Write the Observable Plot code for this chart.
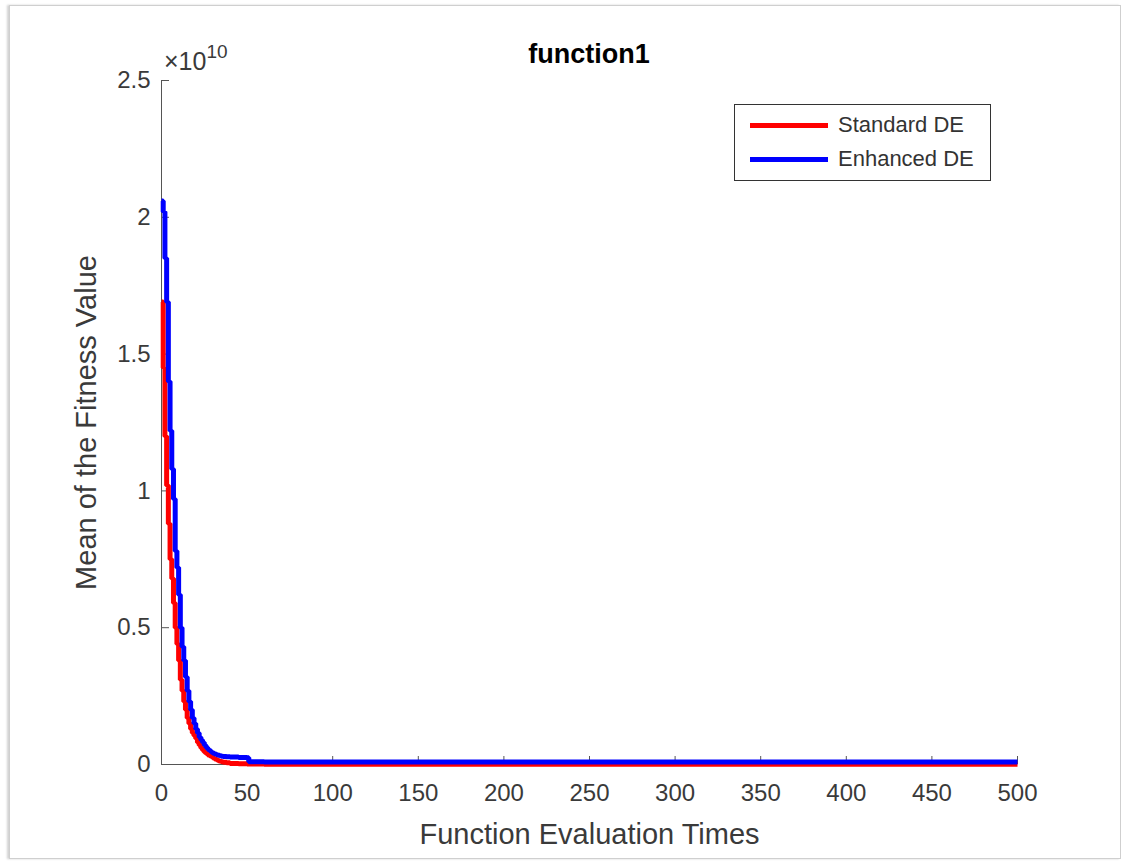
<!DOCTYPE html>
<html>
<head>
<meta charset="utf-8">
<script src="https://cdn.jsdelivr.net/npm/d3@7"></script>
<script src="https://cdn.jsdelivr.net/npm/@observablehq/plot@0.6"></script>
<style>
  html, body { margin: 0; padding: 0; background: #fff; }
  body { width: 1126px; height: 863px; overflow: hidden; font-family: "Liberation Sans", Arial, Helvetica, sans-serif; }
  #wrap { position: relative; width: 1126px; height: 863px; }
  #frame { position: absolute; left: 9px; top: 5px; width: 1110px; height: 852px; border: 1px solid #cfcfcf; box-shadow: -2px 0 2px rgba(0,0,0,0.18); pointer-events: none; }
  #chart { position: absolute; left: 0; top: 0; }
  .title { position: absolute; left: 389px; width: 400px; top: 39px; text-align: center; font-weight: bold; font-size: 27px; color: #000; }
  .expo { position: absolute; left: 164px; top: 47px; font-size: 25px; color: #3a3a3a; white-space: nowrap; }
  .expo sup { font-size: 19px; position: relative; top: -6px; vertical-align: top; }
  .legend { position: absolute; left: 734px; top: 104px; width: 257px; height: 77px; border: 1.5px solid #333; background: #fff; box-sizing: border-box; }
  .legend .item { position: absolute; left: 15px; height: 30px; display: flex; align-items: center; font-size: 22px; color: #333; white-space: nowrap; }
  .legend .sw { display: inline-block; width: 78px; height: 5px; margin-right: 10px; }
</style>
</head>
<body>
<div id="wrap">
  <div id="chart"></div>
  <div class="title" id="title"></div>
  <div class="expo">&times;10<sup>10</sup></div>
  <div class="legend" id="legend"></div>
  <div id="frame"></div>
</div>
<script>
// ---- data (fitness values in units of 1e10) ----
const titleText = "function1";
const xLabel = "Function Evaluation Times";
const yLabel = "Mean of the Fitness Value";
const seriesNames = ["Standard DE", "Enhanced DE"];
const seriesColors = ["#ff0000", "#0000ff"];

const standardX = [0,1,2,3,4,5,6,7,8,9,10,11,12,13,14,15,16,17,18,19,20,21,22,23,24,25,26,27,28,29,30,31,32,33,34,35,36,38,40,45,50,60,100,200,300,400,500];
const standardY = [1.69,1.45,1.20,1.02,0.88,0.75,0.68,0.59,0.50,0.44,0.38,0.31,0.27,0.23,0.20,0.17,0.15,0.13,0.115,0.105,0.095,0.08,0.07,0.06,0.052,0.045,0.04,0.035,0.032,0.028,0.024,0.02,0.017,0.014,0.012,0.01,0.008,0.006,0.004,0.003,0.002,0.001,0.001,0.001,0.001,0.001,0.001];

const enhancedX = [0,1,2,3,4,5,6,7,8,9,10,11,12,13,14,15,16,17,18,19,20,21,22,23,24,25,26,27,28,29,30,31,32,33,34,35,36,38,40,45,50,51,60,100,200,300,400,500];
const enhancedY = [2.06,2.02,1.85,1.69,1.40,1.22,1.08,0.97,0.78,0.72,0.62,0.50,0.43,0.38,0.32,0.27,0.23,0.20,0.17,0.15,0.13,0.115,0.10,0.09,0.08,0.07,0.062,0.055,0.05,0.045,0.041,0.038,0.036,0.034,0.032,0.03,0.029,0.028,0.027,0.026,0.025,0.01,0.009,0.009,0.009,0.009,0.009,0.009];

const xTicks = [0,50,100,150,200,250,300,350,400,450,500];
const yTicks = [0,0.5,1,1.5,2,2.5];
const yTickLabels = ["0","0.5","1","1.5","2","2.5"];

const standard = standardX.map((x, i) => ({x, y: standardY[i]}));
const enhanced = enhancedX.map((x, i) => ({x, y: enhancedY[i]}));

const plot = Plot.plot({
  width: 1126,
  height: 863,
  marginLeft: 161,
  marginRight: 109,
  marginTop: 80,
  marginBottom: 99,
  style: { fontFamily: '"Liberation Sans", Arial, Helvetica, sans-serif', background: "#fff", overflow: "visible" },
  x: { domain: [0, 500] },
  y: { domain: [0, 2.5] },
  marks: [
    Plot.axisX({ ticks: xTicks, tickSize: -8, tickPadding: 27, tickFormat: d => String(d), fontSize: 24, fill: "#3a3a3a", stroke: "#555",
      label: xLabel, labelAnchor: "center", labelOffset: 79, labelArrow: "none" }),
    Plot.axisY({ ticks: yTicks, tickSize: -8, tickPadding: 19, tickFormat: d => yTickLabels[yTicks.indexOf(d)], fontSize: 24, fill: "#3a3a3a", stroke: "#555",
      label: yLabel, labelAnchor: "center", labelOffset: 86, labelArrow: "none" }),
    Plot.ruleX([0], { stroke: "#555", strokeWidth: 1 }),
    Plot.ruleY([0], { stroke: "#555", strokeWidth: 1 }),
    Plot.line(standard, { x: "x", y: "y", stroke: seriesColors[0], strokeWidth: 5, strokeLinecap: "butt", strokeLinejoin: "miter", curve: "step-after" }),
    Plot.line(enhanced, { x: "x", y: "y", stroke: seriesColors[1], strokeWidth: 5, strokeLinecap: "butt", strokeLinejoin: "miter", curve: "step-after" })
  ]
});
// enlarge axis label font
d3.select(plot).selectAll('[aria-label="x-axis label"] text, [aria-label="y-axis label"] text').style("font-size", "29px").style("fill", "#3a3a3a");
document.getElementById("chart").appendChild(plot);

document.getElementById("title").textContent = titleText;
const lg = document.getElementById("legend");
seriesNames.forEach((name, i) => {
  const it = document.createElement("div");
  it.className = "item";
  it.style.top = (i === 0 ? 5 : 39) + "px";
  const sw = document.createElement("span");
  sw.className = "sw";
  sw.style.background = seriesColors[i];
  it.appendChild(sw);
  it.appendChild(document.createTextNode(name));
  lg.appendChild(it);
});
</script>
</body>
</html>
